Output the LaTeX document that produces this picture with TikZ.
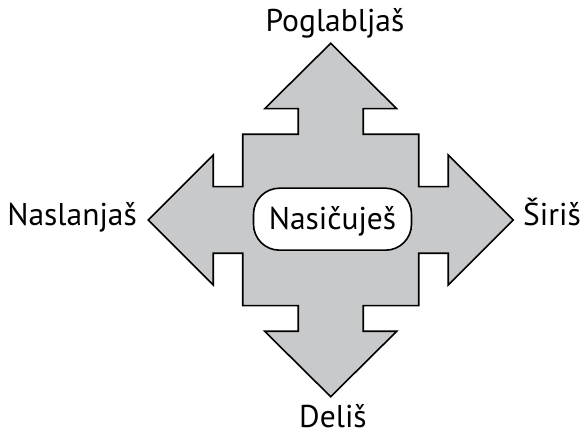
\documentclass[tikz,border=0pt]{standalone}
\usepackage{fontspec}
\setmainfont{PT Sans}
\definecolor{crossgray}{RGB}{200,201,203}
\begin{document}
\begin{tikzpicture}[x=1pt,y=-1pt,
  crossshape/.style={draw=black,fill=crossgray,line width=1.6pt,line join=miter},
  pill/.style={draw=black,fill=white,line width=1.6pt,rounded corners=26pt,
    minimum width=158pt,minimum height=62pt,inner sep=0pt,
    text height=20pt,text depth=0pt,font=\fontsize{31.5}{35}\selectfont},
  lbl/.style={inner sep=0pt,font=\fontsize{31.5}{35}\selectfont}]
\useasboundingbox (0,0) rectangle (582,435);
% four-way arrow cross
\begin{scope}[shift={(330.7,220)}]
\draw[crossshape]
  (0,-176.7) -- (66,-111.3) -- (32.5,-111.3) -- (32.5,-85.7) -- (88,-85.7)
  -- (88,-33.3) -- (117.5,-33.3) -- (117.5,-65) -- (182.5,0) -- (117.5,65)
  -- (117.5,33.3) -- (88,33.3) -- (88,85.7) -- (32.5,85.7) -- (32.5,111.3)
  -- (66,111.3) -- (0,176.7) -- (-66,111.3) -- (-32.5,111.3) -- (-32.5,85.7)
  -- (-88,85.7) -- (-88,33.3) -- (-117.5,33.3) -- (-117.5,65) -- (-182.5,0)
  -- (-117.5,-65) -- (-117.5,-33.3) -- (-88,-33.3) -- (-88,-85.7)
  -- (-32.5,-85.7) -- (-32.5,-111.3) -- (-66,-111.3) -- cycle;
\end{scope}
% centre label
\node[pill] (centre) at (332.5,219.2) {Nasičuješ};
% direction labels
\node[lbl,anchor=base] (up) at (335,32) {Poglabljaš};
\node[lbl,anchor=base] (down) at (333,428) {Deliš};
\node[lbl,anchor=base east] (left) at (137,225.7) {Naslanjaš};
\node[lbl,anchor=base west] (right) at (523,225.7) {Širiš};
\end{tikzpicture}
\end{document}
